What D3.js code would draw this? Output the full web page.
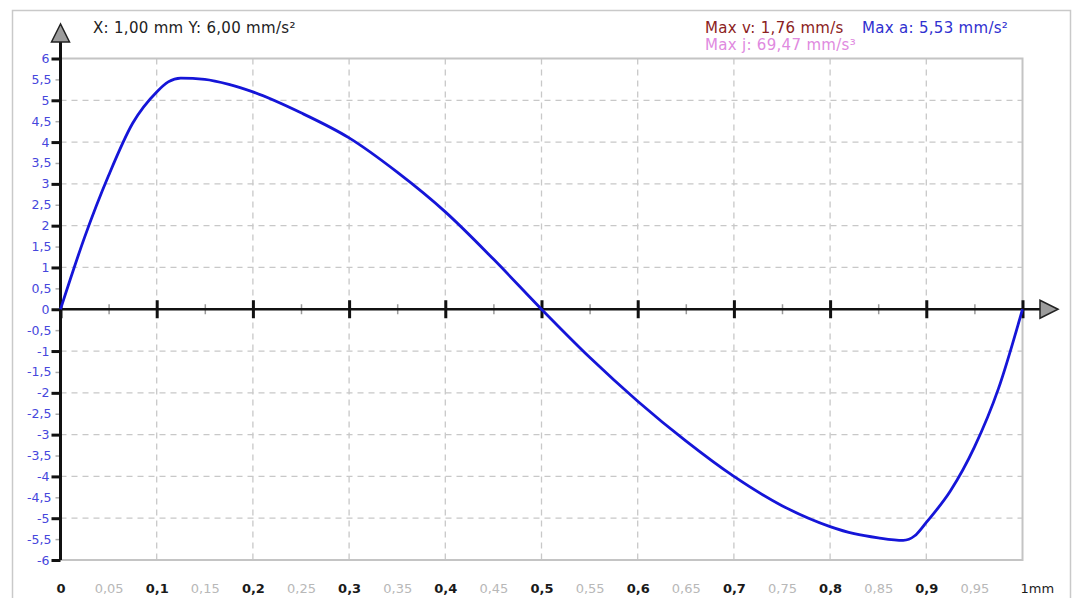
<!DOCTYPE html>
<html><head><meta charset="utf-8">
<script src="https://cdn.jsdelivr.net/npm/d3@7"></script>
<style>
html,body{margin:0;padding:0;background:#fff;}
svg{display:block;font-family:"DejaVu Sans",Verdana,sans-serif;}
</style></head>
<body><svg id="c" width="1078" height="598"></svg>
<script>
// ---- data ----
const posX  = [0, 0.025, 0.05, 0.075, 0.1, 0.112, 0.125, 0.15, 0.175, 0.2, 0.25, 0.3, 0.35, 0.4, 0.45, 0.5,
               0.55, 0.6, 0.65, 0.7, 0.75, 0.8, 0.825, 0.85, 0.876, 0.888, 0.9, 0.925, 0.95, 0.975, 1.0];
const accel = [0, 1.72, 3.2, 4.45, 5.2, 5.44, 5.53, 5.5, 5.38, 5.2, 4.7, 4.1, 3.28, 2.33, 1.2, 0,
               -1.15, -2.2, -3.15, -4.0, -4.7, -5.2, -5.37, -5.47, -5.53, -5.42, -5.1, -4.35, -3.3, -1.9, 0];
const xMajorTicks = [0, 0.1, 0.2, 0.3, 0.4, 0.5, 0.6, 0.7, 0.8, 0.9];
const xMinorTicks = [0.05, 0.15, 0.25, 0.35, 0.45, 0.55, 0.65, 0.75, 0.85, 0.95];
const xEndTick = [1];
const xEndLabel = "1mm";
const yTicks = [-6,-5.5,-5,-4.5,-4,-3.5,-3,-2.5,-2,-1.5,-1,-0.5,0,0.5,1,1.5,2,2.5,3,3.5,4,4.5,5,5.5,6];
const yGrid = [-5,-4,-3,-2,-1,1,2,3,4,5];
const xGrid = [0.1,0.2,0.3,0.4,0.5,0.6,0.7,0.8,0.9];
const headerText = "X: 1,00 mm Y: 6,00 mm/s²";
const legendTexts = ["Max v: 1,76 mm/s", "Max a: 5,53 mm/s²", "Max j: 69,47 mm/s³"];

// ---- chart ----
const svg = d3.select("#c");
const loc = d3.formatLocale({decimal: ",", thousands: ".", grouping: [3], currency: ["", ""], minus: "-"});
const fmt = loc.format("~g");

const x = d3.scaleLinear().domain([0, 1]).range([60.5, 1022.5]);
const y = d3.scaleLinear().domain([-6, 6]).range([560, 58.5]);

// outer border
svg.append("rect").attr("x", 12.5).attr("y", 10.5).attr("width", 1058).attr("height", 600)
  .attr("fill", "#fff").attr("stroke", "#c9c9c9").attr("stroke-width", 1.5);

// grid
svg.append("g").selectAll("line").data(xGrid).join("line")
  .attr("x1", d => x(d)).attr("x2", d => x(d)).attr("y1", y(6)).attr("y2", y(-6))
  .attr("stroke", "#c8c8c8").attr("stroke-width", 1.3).attr("stroke-dasharray", "6,5");
svg.append("g").selectAll("line").data(yGrid).join("line")
  .attr("x1", x(0)).attr("x2", x(1)).attr("y1", d => y(d)).attr("y2", d => y(d))
  .attr("stroke", "#c8c8c8").attr("stroke-width", 1.3).attr("stroke-dasharray", "6,5");

// plot frame
svg.append("rect").attr("x", x(0)).attr("y", y(6)).attr("width", x(1) - x(0)).attr("height", y(-6) - y(6))
  .attr("fill", "none").attr("stroke", "#c4c4c4").attr("stroke-width", 2);

// y axis (labels + ticks)
const yAx = svg.append("g").attr("transform", `translate(${x(0)},0)`)
  .call(d3.axisLeft(y).tickValues(yTicks).tickSize(9).tickPadding(2).tickFormat(fmt));
yAx.select(".domain").remove();
yAx.selectAll(".tick line").attr("stroke", "#111").attr("stroke-width", 3);
yAx.selectAll(".tick").filter(d => d % 1 !== 0).select("line")
  .attr("x2", -5).attr("stroke", "#aaa").attr("stroke-width", 1.5);
yAx.selectAll(".tick text").attr("fill", "#4646dc").attr("font-size", 12.5)
  .attr("font-family", "DejaVu Sans");
yAx.selectAll(".tick").filter(d => d % 1 !== 0).select("text").attr("x", -9);

// x axis ticks at y=0 (crossing)
const xAxMaj = svg.append("g").attr("transform", `translate(0,${y(0)})`)
  .call(d3.axisBottom(x).tickValues(xMajorTicks.concat(xEndTick)).tickSize(9).tickFormat(""));
xAxMaj.select(".domain").remove();
xAxMaj.selectAll(".tick line").attr("y1", -9).attr("stroke", "#111").attr("stroke-width", 3);
const xAxMin = svg.append("g").attr("transform", `translate(0,${y(0)})`)
  .call(d3.axisBottom(x).tickValues(xMinorTicks).tickSize(5).tickFormat(""));
xAxMin.select(".domain").remove();
xAxMin.selectAll(".tick line").attr("y1", -5).attr("stroke", "#999").attr("stroke-width", 1.5);

// x labels at bottom
const xLabY = 584;
const xLab = svg.append("g").attr("transform", `translate(0,${xLabY})`)
  .call(d3.axisBottom(x).tickValues(xMajorTicks.concat(xMinorTicks)).tickSize(0).tickPadding(0).tickFormat(fmt));
xLab.select(".domain").remove();
xLab.selectAll(".tick text").attr("font-size", 13).attr("font-family", "DejaVu Sans")
  .attr("fill", d => xMinorTicks.includes(d) ? "#b8b8b8" : "#1a1a1a")
  .attr("font-weight", d => xMinorTicks.includes(d) ? "normal" : "bold");
svg.append("text").attr("x", x(xEndTick[0]) - 2).attr("y", xLabY).attr("dy", "0.71em").attr("font-size", 13)
  .attr("fill", "#1a1a1a").text(xEndLabel);

// axis lines
svg.append("line").attr("x1", x(0)).attr("x2", x(0)).attr("y1", 40).attr("y2", y(-6))
  .attr("stroke", "#111").attr("stroke-width", 3);
svg.append("line").attr("x1", x(0)).attr("x2", 1042).attr("y1", y(0)).attr("y2", y(0))
  .attr("stroke", "#111").attr("stroke-width", 2.5);

// arrows
const yTop = 24, xRight = 1058;
svg.append("path").attr("d", `M${x(0)},${yTop} L${x(0) - 9},${yTop + 18} L${x(0) + 9},${yTop + 18} Z`)
  .attr("fill", "#9c9c9c").attr("stroke", "#222").attr("stroke-width", 1.5);
svg.append("path").attr("d", `M${xRight},${y(0)} L${xRight - 18},${y(0) - 9} L${xRight - 18},${y(0) + 9} Z`)
  .attr("fill", "#9c9c9c").attr("stroke", "#222").attr("stroke-width", 1.5);

// curve
const line = d3.line().x(d => x(d[0])).y(d => y(d[1])).curve(d3.curveMonotoneX);
svg.append("path").datum(posX.map((v, i) => [v, accel[i]]))
  .attr("d", line).attr("fill", "none").attr("stroke", "#1515d8").attr("stroke-width", 2.8)
  .attr("stroke-linejoin", "round");

// header + legend
svg.append("text").attr("x", 93).attr("y", 33).attr("font-size", 15).attr("letter-spacing", 0.3)
  .attr("fill", "#222").text(headerText);
const legColors = ["#8b2222", "#3030d0", "#e08ae0"];
const legPos = [[705, 33], [862, 33], [705, 50]];
legendTexts.forEach((t, i) => {
  svg.append("text").attr("x", legPos[i][0]).attr("y", legPos[i][1]).attr("font-size", 15)
    .attr("letter-spacing", 0.3).attr("fill", legColors[i]).text(t);
});
</script></body></html>
